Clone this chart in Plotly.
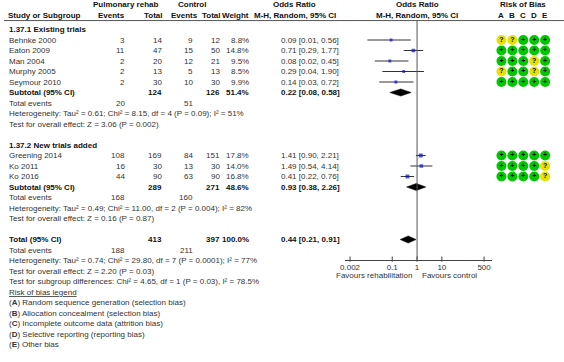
import math
import plotly.graph_objects as go

# ---------------- data ----------------
group_names = ["1.37.1 Existing trials", "1.37.2 New trials added"]
study_names = ["Behnke 2000", "Eaton 2009", "Man 2004", "Murphy 2005", "Seymour 2010",
               "Greening 2014", "Ko 2011", "Ko 2016"]
study_group = [0, 0, 0, 0, 0, 1, 1, 1]
rehab_events = [3, 11, 2, 2, 2, 108, 16, 44]
rehab_total = [14, 47, 20, 13, 30, 169, 30, 90]
control_events = [9, 15, 12, 5, 10, 84, 13, 63]
control_total = [12, 50, 21, 13, 30, 151, 30, 90]
weight_pct = [8.8, 14.8, 9.5, 8.5, 9.9, 17.8, 14.0, 16.8]
or_est = [0.09, 0.71, 0.08, 0.29, 0.14, 1.41, 1.49, 0.41]
or_low = [0.01, 0.29, 0.02, 0.04, 0.03, 0.90, 0.54, 0.22]
or_high = [0.56, 1.77, 0.45, 1.90, 0.72, 2.21, 4.14, 0.76]
rob_domains = ["A", "B", "C", "D", "E"]
rob_judgement = ["??+++", "+++++", "+++?+", "?++?+", "+++++",
                 "+++++", "++++?", "++++?"]

sub_rehab_total = [124, 289]
sub_control_total = [126, 271]
sub_weight = [51.4, 48.6]
sub_or = [0.22, 0.93]
sub_low = [0.08, 0.38]
sub_high = [0.58, 2.26]
sub_rehab_events = [20, 168]
sub_control_events = [51, 160]
sub_het = ["Heterogeneity: Tau² = 0.61; Chi² = 8.15, df = 4 (P = 0.09); I² = 51%",
           "Heterogeneity: Tau² = 0.49; Chi² = 11.00, df = 2 (P = 0.004); I² = 82%"]
sub_test = ["Test for overall effect: Z = 3.06 (P = 0.002)",
            "Test for overall effect: Z = 0.16 (P = 0.87)"]

total_rehab_total = 413
total_control_total = 397
total_weight = 100.0
total_or = 0.44
total_low = 0.21
total_high = 0.91
total_rehab_events = 188
total_control_events = 211
total_het = "Heterogeneity: Tau² = 0.74; Chi² = 29.80, df = 7 (P = 0.0001); I² = 77%"
total_test = "Test for overall effect: Z = 2.20 (P = 0.03)"
subgroup_test = "Test for subgroup differences: Chi² = 4.65, df = 1 (P = 0.03), I² = 78.5%"

axis_ticks = [0.002, 0.1, 1, 10, 500]
axis_tick_labels = ["0.002", "0.1", "1", "10", "500"]
favours_left = "Favours rehabilitation"
favours_right = "Favours control"

rob_legend_title = "Risk of bias legend"
rob_legend_letters = ["A", "B", "C", "D", "E"]
rob_legend_texts = ["Random sequence generation (selection bias)",
                    "Allocation concealment (selection bias)",
                    "Incomplete outcome data (attrition bias)",
                    "Selective reporting (reporting bias)",
                    "Other bias"]

# ---------------- layout constants ----------------
W, H = 564, 362
ROW_H = 10.5
TOP = 29.5
FONT = "Liberation Sans, Arial, sans-serif"
FS = 8
TXT = "#333333"
BLD = "#111111"

X_LABEL = 3
X_EV1 = 123
X_TOT1_H = 161
X_TOT1_V = 160
X_EV2_H = 196
X_EV2_V = 191
X_TOT2_H = 220
X_TOT2_V = 219
X_WT = 248
X_ORTXT = 278
X_GRP1 = 122
X_GRP2 = 189
X_ORHDR = 293
FOREST_PX = (343, 491)
FOREST_RANGE = (-2.92, 3.0)
ROB_PX = (495.5, 550.5)

R_HDR1 = -2.35
R_HDR2 = -1.32
R_LINE = -0.85

fig = go.Figure()
ann = []


def txt(px, row, s, anchor="left", bold=False, color=None, size=FS):
    ann.append(dict(x=px / W, xref="paper", y=row, yref="y", text=("<b>%s</b>" % s) if bold else s,
                    showarrow=False, xanchor=anchor, yanchor="middle",
                    font=dict(family=FONT, size=size, color=color or (BLD if bold else TXT)),
                    borderpad=0))


# row assignment
rows_study = []
rows_sub = []
rows_grp = []
r = 0
for g in range(len(group_names)):
    rows_grp.append(r)
    r += 1
    for i, sg in enumerate(study_group):
        if sg == g:
            rows_study.append(r)
            r += 1
    rows_sub.append(r)
    r += 5  # subtotal, total events, heterogeneity, test, blank
row_total = r
row_axis = row_total + 1.92

# headers
txt(X_GRP1, R_HDR1, "Pulmonary rehab", "center", True)
txt(X_GRP2, R_HDR1, "Control", "center", True)
txt(X_ORHDR, R_HDR1, "Odds Ratio", "center", True)
txt(X_LABEL, R_HDR2, "Study or Subgroup", "left", True)
txt(X_EV1, R_HDR2, "Events", "right", True)
txt(X_TOT1_H, R_HDR2, "Total", "right", True)
txt(X_EV2_H, R_HDR2, "Events", "right", True)
txt(X_TOT2_H, R_HDR2, "Total", "right", True)
txt(X_WT, R_HDR2, "Weight", "right", True)
txt(X_ORHDR, R_HDR2, "M-H, Random, 95% CI", "center", True)
for rr, s in [(R_HDR1, "Odds Ratio"), (R_HDR2, "M-H, Random, 95% CI")]:
    ann.append(dict(x=0, xref="x", y=rr, yref="y", text="<b>%s</b>" % s, showarrow=False,
                    xanchor="center", yanchor="middle", font=dict(family=FONT, size=FS, color=BLD)))
ann.append(dict(x=2, xref="x2", y=R_HDR1, yref="y", text="<b>Risk of Bias</b>", showarrow=False,
                xanchor="center", yanchor="middle", font=dict(family=FONT, size=FS, color=BLD)))
for k, d in enumerate(rob_domains):
    ann.append(dict(x=k, xref="x2", y=R_HDR2, yref="y", text="<b>%s</b>" % d, showarrow=False,
                    xanchor="center", yanchor="middle", font=dict(family=FONT, size=FS, color=BLD)))

fig.add_shape(type="line", xref="paper", yref="y", x0=0, x1=1, y0=R_LINE, y1=R_LINE,
              line=dict(color="#555555", width=1))

# study rows
for i, rr in enumerate(rows_study):
    txt(X_LABEL + 1, rr, study_names[i])
    txt(X_EV1, rr, str(rehab_events[i]), "right")
    txt(X_TOT1_V, rr, str(rehab_total[i]), "right")
    txt(X_EV2_V, rr, str(control_events[i]), "right")
    txt(X_TOT2_V, rr, str(control_total[i]), "right")
    txt(X_WT, rr, "%.1f%%" % weight_pct[i], "right")
    txt(X_ORTXT, rr, "%.2f [%.2f, %.2f]" % (or_est[i], or_low[i], or_high[i]))

# groups
for g in range(len(group_names)):
    txt(X_LABEL + 1, rows_grp[g], group_names[g], "left", True)
    rs = rows_sub[g]
    txt(X_LABEL + 1, rs, "Subtotal (95% CI)", "left", True)
    txt(X_TOT1_V, rs, str(sub_rehab_total[g]), "right", True)
    txt(X_TOT2_V, rs, str(sub_control_total[g]), "right", True)
    txt(X_WT, rs, "%.1f%%" % sub_weight[g], "right", True)
    txt(X_ORTXT, rs, "%.2f [%.2f, %.2f]" % (sub_or[g], sub_low[g], sub_high[g]), "left", True)
    txt(X_LABEL + 1, rs + 1, "Total events")
    txt(X_EV1, rs + 1, str(sub_rehab_events[g]), "right")
    txt(X_EV2_V, rs + 1, str(sub_control_events[g]), "right")
    txt(X_LABEL + 1, rs + 2, sub_het[g])
    txt(X_LABEL + 1, rs + 3, sub_test[g])

# overall
rt = row_total
txt(X_LABEL + 1, rt, "Total (95% CI)", "left", True)
txt(X_TOT1_V, rt, str(total_rehab_total), "right", True)
txt(X_TOT2_V, rt, str(total_control_total), "right", True)
txt(X_WT, rt, "%.1f%%" % total_weight, "right", True)
txt(X_ORTXT, rt, "%.2f [%.2f, %.2f]" % (total_or, total_low, total_high), "left", True)
txt(X_LABEL + 1, rt + 1, "Total events")
txt(X_EV1, rt + 1, str(total_rehab_events), "right")
txt(X_EV2_V, rt + 1, str(total_control_events), "right")
txt(X_LABEL + 1, rt + 2, total_het)
txt(X_LABEL + 1, rt + 3, total_test)
txt(X_LABEL + 1, rt + 4, subgroup_test)
txt(X_LABEL + 1, rt + 5, "<u>%s</u>" % rob_legend_title)
for k, (L, s) in enumerate(zip(rob_legend_letters, rob_legend_texts)):
    txt(X_LABEL + 1, rt + 6 + k, "(<b>%s</b>) %s" % (L, s))

# forest: CI lines
cx, cy = [], []
for i, rr in enumerate(rows_study):
    cx += [or_low[i], or_high[i], None]
    cy += [rr, rr, None]
fig.add_trace(go.Scatter(x=cx, y=cy, mode="lines", line=dict(color="#333333", width=1),
                         hoverinfo="skip", showlegend=False, xaxis="x", yaxis="y"))
# squares
fig.add_trace(go.Scatter(x=or_est, y=rows_study, mode="markers",
                         marker=dict(symbol="square", color="#1010d0",
                                     size=[math.sqrt(w) * 0.95 for w in weight_pct], line=dict(width=0)),
                         hoverinfo="skip", showlegend=False, xaxis="x", yaxis="y"))
# diamonds
dia = [(sub_or[g], sub_low[g], sub_high[g], rows_sub[g]) for g in range(len(group_names))]
dia.append((total_or, total_low, total_high, row_total))
for est, lo, hi, rr in dia:
    fig.add_trace(go.Scatter(x=[lo, est, hi, est, lo], y=[rr, rr - 0.34, rr, rr + 0.34, rr],
                             mode="lines", fill="toself", fillcolor="#000000",
                             line=dict(color="#000000", width=0.5),
                             hoverinfo="skip", showlegend=False, xaxis="x", yaxis="y"))
# null line
fig.add_trace(go.Scatter(x=[1, 1], y=[R_LINE, row_axis], mode="lines",
                         line=dict(color="#555555", width=1), hoverinfo="skip",
                         showlegend=False, xaxis="x", yaxis="y"))
# tick crosses
tx, ty = [], []
for t in axis_ticks:
    tx += [t, t, None]
    ty += [row_axis - 0.3, row_axis + 0.2, None]
fig.add_trace(go.Scatter(x=tx, y=ty, mode="lines", line=dict(color="#444444", width=1),
                         hoverinfo="skip", showlegend=False, xaxis="x", yaxis="y"))
# favours
ann.append(dict(x=0, xref="x", y=row_axis + 1.55, yref="y", text=favours_left, showarrow=False,
                xanchor="right", yanchor="middle", xshift=-3,
                font=dict(family=FONT, size=FS, color=TXT)))
ann.append(dict(x=0, xref="x", y=row_axis + 1.55, yref="y", text=favours_right, showarrow=False,
                xanchor="left", yanchor="middle", xshift=3,
                font=dict(family=FONT, size=FS, color=TXT)))

# risk of bias circles
bx, by, bc, bt = [], [], [], []
for i, rr in enumerate(rows_study):
    for k, j in enumerate(rob_judgement[i]):
        bx.append(k)
        by.append(rr)
        bc.append("#00c800" if j == "+" else "#e6e200")
        bt.append("<b>%s</b>" % j)
fig.add_trace(go.Scatter(x=bx, y=by, mode="markers+text", text=bt, textposition="middle center",
                         textfont=dict(family=FONT, size=7, color="#000000"),
                         marker=dict(symbol="circle", size=10, color=bc, line=dict(width=0)),
                         hoverinfo="skip", showlegend=False, xaxis="x2", yaxis="y"))

fig.update_layout(
    width=W, height=H, margin=dict(l=0, r=0, t=0, b=0),
    paper_bgcolor="white", plot_bgcolor="rgba(0,0,0,0)",
    annotations=ann, showlegend=False, hovermode=False,
    xaxis=dict(type="log", range=list(FOREST_RANGE), domain=[FOREST_PX[0] / W, FOREST_PX[1] / W],
               anchor="free", position=1 - (TOP + row_axis * ROW_H) / H,
               showline=True, linecolor="#444444", linewidth=1, showgrid=False, zeroline=False,
               ticks="", tickvals=axis_ticks, ticktext=axis_tick_labels,
               tickfont=dict(family=FONT, size=FS, color=TXT), fixedrange=True),
    xaxis2=dict(range=[-0.5, 4.5], domain=[ROB_PX[0] / W, ROB_PX[1] / W], anchor="y",
                visible=False, fixedrange=True),
    yaxis=dict(range=[(H - TOP) / ROW_H, -TOP / ROW_H], visible=False, domain=[0, 1],
               fixedrange=True),
)

fig.write_html("out.html", config={"displayModeBar": False, "staticPlot": True},
               post_script="document.body.style.margin='0px';document.body.style.padding='0px';")
